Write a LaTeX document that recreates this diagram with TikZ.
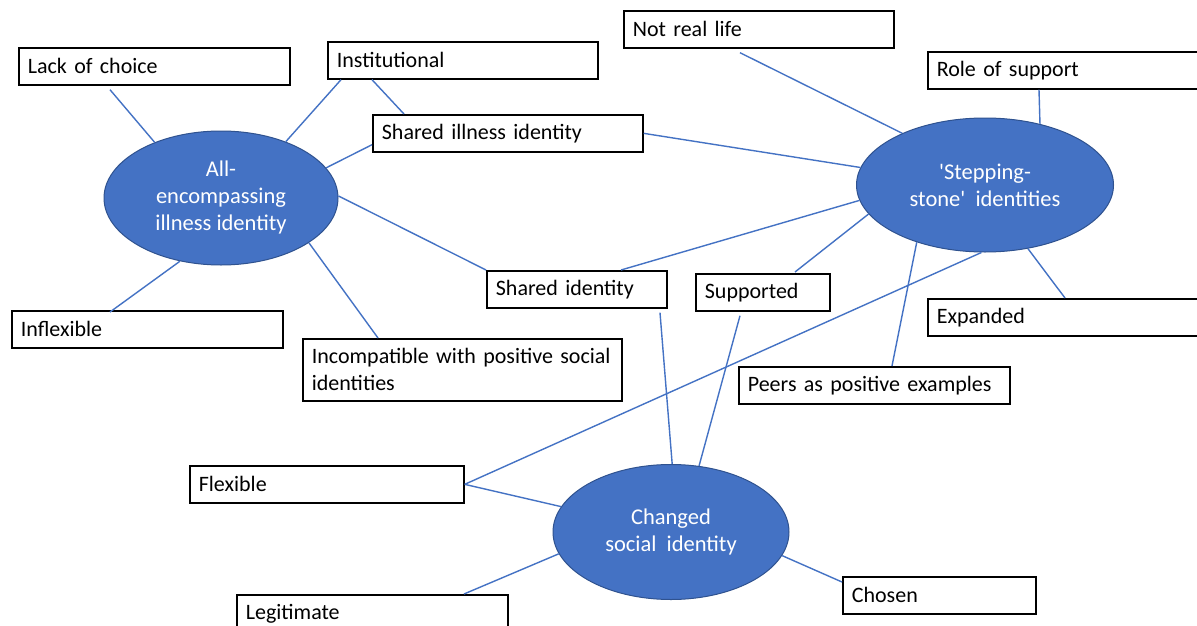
\documentclass[tikz,border=0pt]{standalone}
\usepackage{fontspec}
\setmainfont{Carlito}
\usetikzlibrary{shapes.geometric,calc}
\definecolor{linkblue}{HTML}{4472C4}
\definecolor{ovalfill}{HTML}{4472C4}
\definecolor{ovaledge}{HTML}{2F528F}

\begin{document}
\begin{tikzpicture}[x=1pt,y=-1pt,
  box/.style={draw=black,line width=1.7pt,fill=white,anchor=north west,
    inner xsep=9pt,inner ysep=0pt,align=left,minimum height=37pt,
    font=\fontsize{22}{27}\selectfont},
  oval/.style={ellipse,fill=ovalfill,draw=ovaledge,line width=1pt,
    text=white,align=center,inner sep=0pt,
    font=\fontsize{22.5}{27}\selectfont},
  link/.style={draw=linkblue,line width=1.4pt}]

\useasboundingbox (0,0) rectangle (1197,626);
\fill[white] (0,0) rectangle (1197,626);
\clip (0,0) rectangle (1197,626);

% central themes
\node[oval,minimum width=234pt,minimum height=134pt] (allenc) at (221,198)
  {All-\\encompassing\\illness identity};
\node[oval,minimum width=257pt,minimum height=134pt] (step) at (985,185)
  {\textquotesingle Stepping-\\stone\textquotesingle~ identities};
\node[oval,minimum width=236pt,minimum height=135pt] (chg) at (671,532)
  {Changed\\social~ identity};

% sub-themes
\node[box,text width=253pt] (lack)   at (18,47)   {Lack of choice};
\node[box,text width=252pt] (inst)   at (327,41)  {Institutional};
\node[box,text width=252pt] (sil)    at (372,114) {Shared illness identity};
\node[box,text width=252pt] (nrl)    at (623,10)  {Not real life};
\node[box,text width=253pt] (ros)    at (927,51)  {Role of support};
\node[box,text width=162pt] (sid)    at (486,270) {Shared identity};
\node[box,text width=116pt] (sup)    at (695,273) {Supported};
\node[box,text width=253pt] (exp)    at (927,298) {Expanded};
\node[box,text width=253pt] (peer)   at (738,366) {Peers as positive examples};
\node[box,text width=253pt] (infl)   at (11,310)  {Inflexible};
\node[box,text width=301pt,minimum height=62pt] (incomp) at (302,338)
  {Incompatible with positive social\\identities};
\node[box,text width=256pt] (flex)   at (189,465) {Flexible};
\node[box,text width=253pt] (legit)  at (236,594) {Legitimate};
\node[box,text width=175pt] (chosen) at (842,576) {Chosen};

% links to the all-encompassing illness identity
\draw[link] ($(lack.south west)+(92,4)$) -- (allenc.140.5);
\draw[link] ($(inst.south west)+(14,0)$) -- (allenc.41.7);
\draw[link] ($(inst.south west)+(45,0)$) -- ($(sil.north west)+(32,0)$);
\draw[link] ($(sil.south west)+(0,-8)$) -- (allenc.16.2);
\draw[link] (allenc.1) -- (sid.north west);
\draw[link] ($(infl.north west)+(99,2)$) -- (allenc.237.4);
\draw[link] ($(incomp.north west)+(76,0)$) -- (allenc.333.7);

% links to the stepping-stone identities
\draw[link] (sil.east) -- (step.172.7);
\draw[link] ($(nrl.south west)+(117,4)$) -- (step.148.7);
\draw[link] ($(ros.south west)+(112,0)$) -- (step.48.5);
\draw[link] ($(sid.north west)+(135,0)$) -- (step.187.3);
\draw[link] ($(sup.north west)+(100,-1)$) -- (step.194.4);
\draw[link] (step.220.9) -- ($(peer.north west)+(154,0)$);
\draw[link] (step.304.5) -- ($(exp.north west)+(138,0)$);
\draw[link] (step.267.4) -- (flex.east);

% links to the changed social identity
\draw[link] ($(sid.south west)+(174,4)$) -- (chg.89);
\draw[link] ($(sup.south west)+(45,4)$) -- (chg.67.8);
\draw[link] (flex.east) -- (chg.167.5);
\draw[link] ($(legit.north west)+(228,0)$) -- (chg.191.6);
\draw[link] (chg.-12.2) -- ($(chosen.north west)+(0,6)$);
\end{tikzpicture}
\end{document}
